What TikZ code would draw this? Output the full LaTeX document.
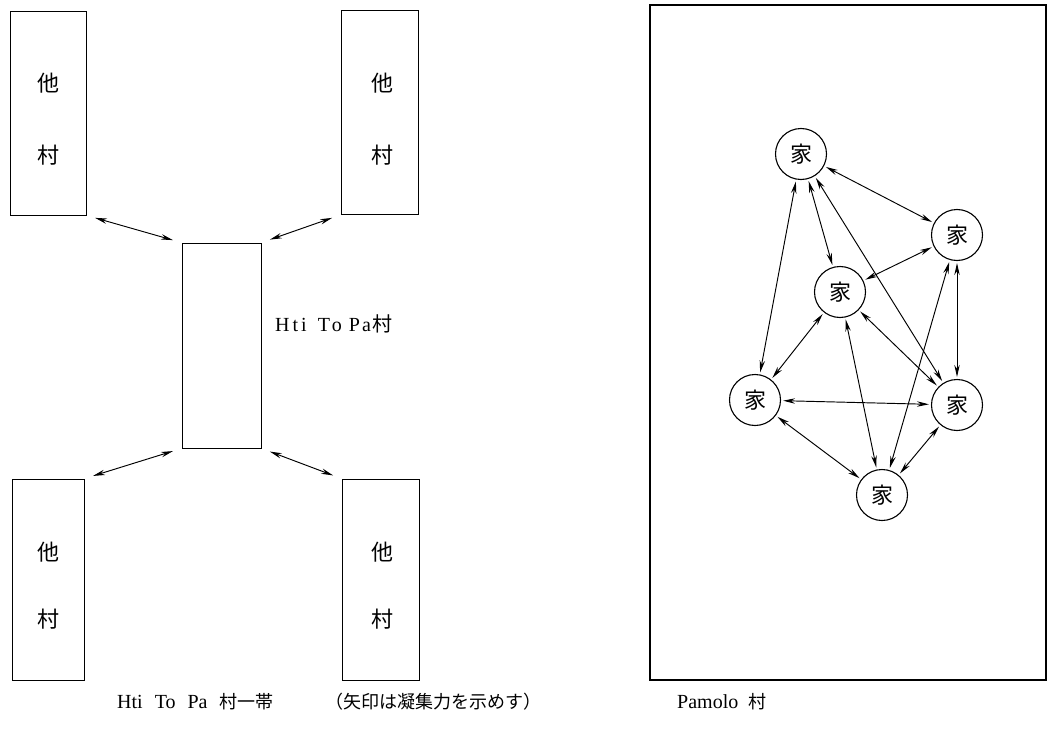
\documentclass[tikz,border=0pt]{standalone}
\usepackage{fontspec}
\setmainfont{Liberation Serif}
\newfontfamily\cjk{Noto Sans CJK JP}
\usetikzlibrary{arrows.meta}
\begin{document}
\begin{tikzpicture}[x=1pt,y=-1pt,
  vbox/.style={draw, line width=0.8pt, rectangle, minimum width=76pt, minimum height=204pt, inner sep=0pt},
  house/.style={draw, circle, line width=1.1pt, minimum size=51pt, inner sep=0pt, font=\cjk\fontsize{22}{22}\selectfont},
  mytip/.tip={Stealth[length=12pt,width=5.4pt]},
  link/.style={mytip-mytip, line width=0.95pt, shorten <=2pt, shorten >=2pt},
  vlink/.style={mytip-mytip, line width=0.95pt, shorten <=9pt, shorten >=9pt},
  vil/.style={inner sep=0pt, font=\cjk\fontsize{22}{22}\selectfont},
  captext/.style={inner sep=0pt, anchor=base west, font=\fontsize{20}{20}\selectfont},
  capcjk/.style={font=\cjk\fontsize{18}{18}\selectfont},
]
\useasboundingbox (0,0) rectangle (1048,730);
% left panel
\node[vbox] (tl) at (48,113) {};
\node[vbox, minimum width=77pt] (tr) at (379.5,112.5) {};
\node[vbox, minimum width=79pt, minimum height=205pt] (c) at (221.5,345.5) {};
\node[vbox, minimum width=72pt, minimum height=201pt] (bl) at (48,579.5) {};
\node[vbox, minimum width=77pt, minimum height=201pt] (br) at (380.5,579.5) {};
\node[vil] (tl1) at (48,83) {他};
\node[vil] (tl2) at (48,155) {村};
\node[vil] (tr1) at (382,83) {他};
\node[vil] (tr2) at (382,155) {村};
\node[vil] (bl1) at (48,552) {他};
\node[vil] (bl2) at (48,619) {村};
\node[vil] (br1) at (382,552) {他};
\node[vil] (br2) at (382,619) {村};
\draw[vlink] (tl.south east) -- (c.north west);
\draw[vlink] (tr.south west) -- (c.north east);
\draw[vlink] (c.south west) -- (bl.north east);
\draw[vlink] (c.south east) -- (br.north west);
\node[inner sep=0pt, anchor=west, font=\fontsize{20}{20}\selectfont] (lab) at (275,324) {H\hspace{3pt}t\hspace{3pt}i\hspace{11pt}T\hspace{2pt}o\hspace{7pt}P\hspace{2pt}a\hspace{2pt}{\cjk 村}};
% right panel
\draw[line width=1.6pt] (650,5) rectangle (1046,680);
\node[house] (h1) at (801,154) {家};
\node[house] (h2) at (957,235) {家};
\node[house] (h3) at (840,292) {家};
\node[house] (h4) at (755,400) {家};
\node[house] (h5) at (957,405) {家};
\node[house] (h6) at (882,495) {家};
\foreach \a/\b in {h1/h2,h1/h3,h1/h4,h1/h5,h2/h3,h2/h5,h2/h6,h3/h4,h3/h5,h3/h6,h4/h5,h4/h6,h5/h6}
  \draw[link] (\a) -- (\b);
% captions
\node[captext] (cap1) at (117,708) {Hti\hspace{12pt}To\hspace{12pt}Pa\hspace{12pt}{\cjk\fontsize{18}{18}\selectfont 村一帯}};
\node[captext, capcjk] (cap2) at (325,708) {（矢印は凝集力を示めす）};
\node[captext] (cap3) at (677,708) {Pamolo\hspace{10pt}{\cjk\fontsize{18}{18}\selectfont 村}};
\end{tikzpicture}
\end{document}
